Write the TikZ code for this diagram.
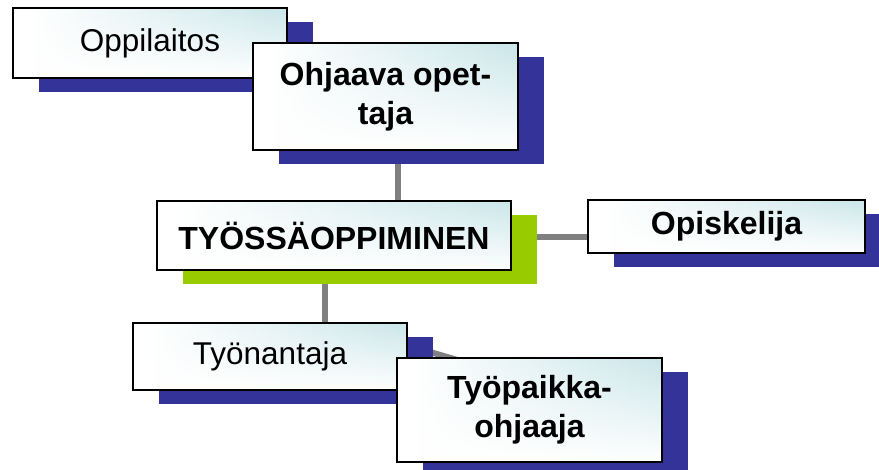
\documentclass[tikz,border=0pt]{standalone}
\usepackage{fontspec}
\setmainfont{Liberation Sans}
\usetikzlibrary{shadows,calc,fadings}
\pgfdeclarelayer{background}
\pgfsetlayers{background,main}
\definecolor{navy}{RGB}{51,51,153}
\definecolor{lime}{RGB}{153,204,0}
\definecolor{boxcyan}{RGB}{174,217,222}
\definecolor{conngray}{RGB}{128,128,128}
\pgfdeclarehorizontalshading{hshade}{100bp}{color(0bp)=(white); color(28bp)=(white); color(100bp)=(boxcyan)}
\tikzset{
  box/.style={draw=black, line width=1.4pt, rectangle, inner sep=0pt,
    align=center,
    path picture={
      \shade[shading=hshade] (path picture bounding box.south west) rectangle (path picture bounding box.north east);
      \fill[white, path fading=north] (path picture bounding box.south west) rectangle (path picture bounding box.north east);
    },
    drop shadow={shadow xshift=26pt, shadow yshift=-14pt, fill=navy, opacity=1, draw=none}},
  greenbox/.style={box, drop shadow={shadow xshift=26pt, shadow yshift=-14pt, fill=lime, opacity=1, draw=none}},
  reg/.style={font=\fontsize{31.5}{39}\selectfont},
  bld/.style={font=\fontsize{32}{39}\selectfont\bfseries},
  conn/.style={draw=conngray, line width=6pt}
}
\begin{document}
\begin{tikzpicture}[x=1pt,y=-1pt]
\useasboundingbox (0,0) rectangle (879,470);
\node[box, reg, minimum width=274pt, minimum height=70pt] (opp) at (150,43) {Oppilaitos};
\node[box, bld, minimum width=265pt, minimum height=107pt] (ohj) at (385.5,96.5) {Ohjaava opet-\\taja\rule[-6pt]{0pt}{1pt}};
\node[greenbox, bld, minimum width=354pt, minimum height=69pt] (tyo) at (334,235.5) {TYÖSSÄOPPIMINEN};
\node[box, bld, minimum width=277pt, minimum height=53pt] (opi) at (726.5,226.5) {Opiskelija};
\node[box, reg, minimum width=274pt, minimum height=67pt] (ty) at (270,356.5) {Työnantaja};
\node[box, bld, minimum width=265pt, minimum height=104pt] (tp) at (529.5,410) {Työpaikka-\\ohjaaja};
\begin{pgfonlayer}{background}
\draw[conn] ([xshift=12.5pt]ohj.south) -- ([xshift=12.5pt]ohj.south |- tyo.north);
\draw[conn] ([yshift=-1.5pt]tyo.east) -- ([yshift=-1.5pt]tyo.east -| opi.west);
\draw[conn] ([xshift=-9pt]tyo.south) -- ([xshift=-9pt]tyo.south |- ty.north);
\draw[conn] ([yshift=11pt]ty.east) -- ([xshift=83pt,yshift=-9pt]tp.north west);
\end{pgfonlayer}
\end{tikzpicture}
\end{document}
